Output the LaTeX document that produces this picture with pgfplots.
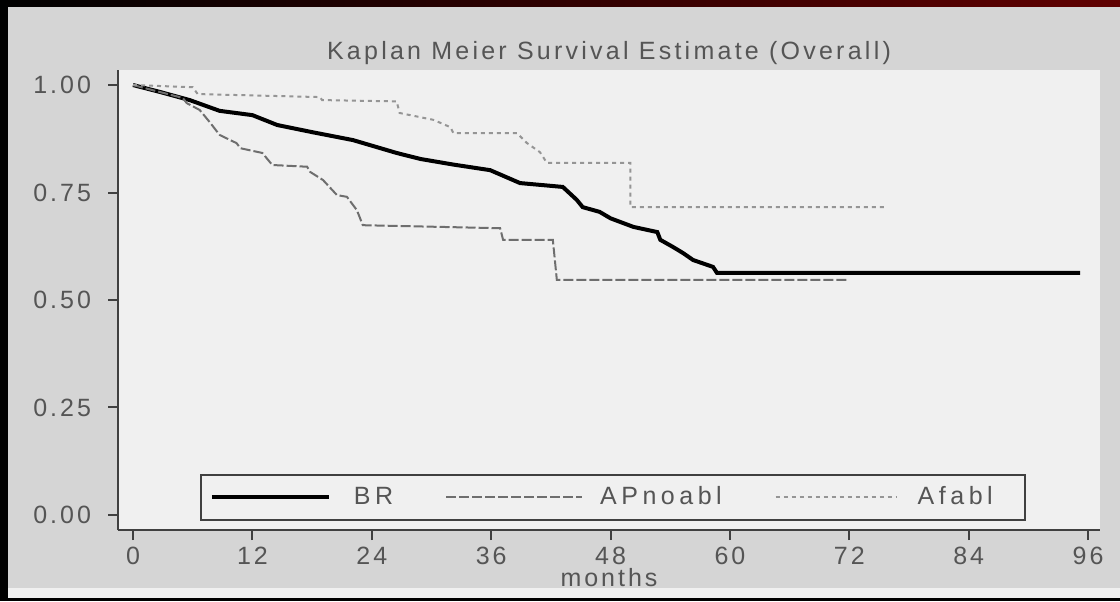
\documentclass[border=0pt]{standalone}
\usepackage{fontspec}
\setmainfont{Liberation Sans}
\newfontfamily\chartfont[LetterSpace=12]{Liberation Sans}
\newfontfamily\titlefont[LetterSpace=13]{Liberation Sans}
\newfontfamily\legfont[LetterSpace=18]{Liberation Sans}
\usepackage{pgfplots}
\pgfplotsset{compat=1.18}
\pgfplotsset{
  legA/.style={legend image code/.code={\draw[##1] (0pt,0pt) -- (58.5pt,0pt);}},
  legB/.style={legend image code/.code={\draw[##1] (0pt,0pt) -- (68pt,0pt);}},
  legC/.style={legend image code/.code={\draw[##1] (0pt,0pt) -- (60.5pt,0pt);}},
}
\definecolor{bgdither}{HTML}{D5D5D5}
\definecolor{plotbg}{HTML}{F0F0F0}
\definecolor{axisgray}{HTML}{404040}
\definecolor{txtgray}{HTML}{555555}
\definecolor{apgray}{HTML}{6E6E6E}
\definecolor{afgray}{HTML}{959595}
\definecolor{darkred}{HTML}{600000}
\begin{document}
\begin{tikzpicture}
\useasboundingbox (0,0) rectangle (560pt,300.5pt);
\fill[bgdither] (0,0) rectangle (560pt,300.5pt);
\fill[plotbg] (0,1.5pt) rectangle (560pt,6.5pt);
\fill[black] (0,0) rectangle (560pt,1.5pt);
\shade[left color=black, right color=darkred] (0,297pt) rectangle (560pt,300.5pt);
\fill[black] (0,0) rectangle (4pt,297pt);
\begin{axis}[
  at={(59pt,35.5pt)}, anchor=south west,
  scale only axis, width=491pt, height=230pt,
  xmin=-1.51, xmax=97.2, ymin=-0.035, ymax=1.035,
  axis background/.style={fill=plotbg},
  separate axis lines,
  axis x line*=bottom, axis y line*=left,
  axis line style={-, draw=axisgray, line width=1pt},
  tick align=outside, major tick length=5pt,
  every tick/.style={axisgray, line width=1pt},
  xtick={0,12,24,36,48,60,72,84,96},
  ytick={0,0.25,0.5,0.75,1},
  /pgf/number format/assume math mode=true,
  yticklabel style={/pgf/number format/fixed, /pgf/number format/fixed zerofill, /pgf/number format/precision=2, xshift=-5pt},
  xticklabel style={inner sep=1pt, yshift=-2.2pt},
  tick label style={font=\fontsize{12.5}{14}\chartfont, text=txtgray},
  title={Kaplan Meier Survival Estimate (Overall)},
  title style={at={(axis description cs:0.5,1)}, anchor=center, yshift=2.5pt, font=\fontsize{12.5}{14}\titlefont, text=txtgray},
  xlabel={months},
  xlabel style={at={(axis description cs:0.5,0)}, anchor=center, inner sep=0pt, yshift=-24pt, font=\fontsize{12.5}{14}\chartfont, text=txtgray},
  legend columns=3,
  legend style={at={(0.0835,0.0196)}, anchor=south west, fill=plotbg, draw=axisgray, line width=1pt,
    inner xsep=4.5pt, inner ysep=4pt, font=\fontsize{12.5}{14}\legfont, text=txtgray,
    /tikz/column 1/.style={column sep=9.5pt},
    /tikz/column 2/.style={column sep=24pt},
    /tikz/column 3/.style={column sep=6.5pt},
    /tikz/column 4/.style={column sep=24.5pt},
    /tikz/column 5/.style={column sep=8pt}},
]
\addplot[black, line width=2pt, legA] coordinates {
(0,1.0) (2.7,0.984) (5.7,0.965) (8.7,0.94) (12,0.93) (14.5,0.907) (18.1,0.89) (22.1,0.872) (26.5,0.842) (28.9,0.828) (32.2,0.815) (35.9,0.802) (38.9,0.772) (43.2,0.763) (44.6,0.733) (45.2,0.716) (46.9,0.705) (48,0.69) (50.3,0.67) (52.7,0.658) (53,0.64) (54.3,0.623) (55.3,0.609) (56.3,0.593) (58.3,0.577) (58.7,0.563) (95.2,0.563)
};
\addlegendentry{BR}
\addplot[apgray, line width=1pt, dash pattern=on 5pt off 1.5pt, legB] coordinates {
(0,1.0) (5,0.97) (5.4,0.958) (6.7,0.942) (7.7,0.914) (8.7,0.884) (10.4,0.865) (10.8,0.853) (13,0.842) (14,0.814) (17.5,0.81) (17.8,0.798) (19.1,0.779) (20.5,0.744) (21.5,0.74) (22.5,0.709) (23.1,0.674) (36.9,0.667) (37.2,0.64) (42.2,0.64) (42.6,0.547) (71.8,0.547)
};
\addlegendentry{APnoabl}
\addplot[afgray, line width=1pt, dash pattern=on 2pt off 2pt, legC] coordinates {
(0,1.0) (6,0.995) (6.5,0.979) (18.8,0.972) (19,0.965) (26.5,0.962) (26.8,0.935) (30.2,0.919) (31.9,0.902) (32.2,0.888) (38.6,0.888) (39.6,0.865) (40.9,0.844) (41.6,0.819) (50,0.819) (50,0.716) (75.8,0.716)
};
\addlegendentry{Afabl\hspace*{9.5pt}}
\end{axis}
\end{tikzpicture}
\end{document}
